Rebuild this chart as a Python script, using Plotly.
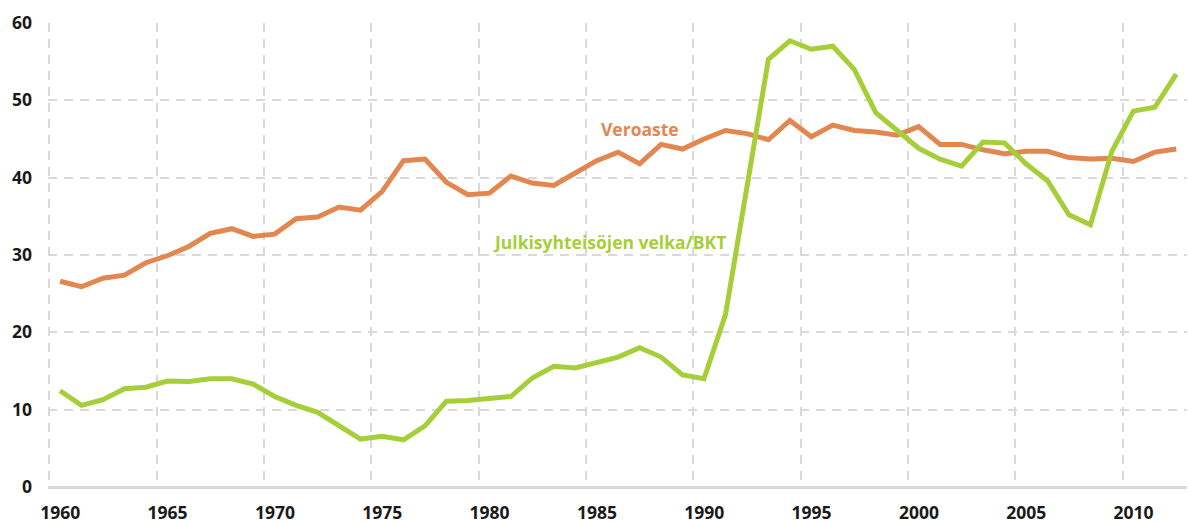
import plotly.graph_objects as go

years = list(range(1960, 2013))

veroaste = [26.6, 25.9, 27.0, 27.4, 29.0, 29.9, 31.1, 32.8, 33.4, 32.4,
            32.7, 34.7, 34.9, 36.2, 35.8, 38.2, 42.2, 42.4, 39.4, 37.8,
            38.0, 40.2, 39.3, 39.0, 40.6, 42.2, 43.3, 41.8, 44.3, 43.7,
            45.0, 46.1, 45.7, 44.9, 47.4, 45.3, 46.8, 46.1, 45.9, 45.5,
            46.6, 44.3, 44.3, 43.6, 43.1, 43.4, 43.4, 42.6, 42.4, 42.5,
            42.1, 43.3, 43.7]

velka = [12.45, 10.55, 11.3, 12.7, 12.9, 13.7, 13.65, 14.0, 14.0, 13.3,
         11.7, 10.55, 9.65, 7.85, 6.2, 6.55, 6.1, 7.9, 11.1, 11.2,
         11.4, 11.7, 14.1, 15.6, 15.4, 16.1, 16.8, 18.0, 16.8, 14.5,
         14.0, 22.3, 39.0, 55.3, 57.7, 56.6, 57.0, 54.0, 48.4, 46.0,
         43.8, 42.4, 41.5, 44.6, 44.5, 41.8, 39.6, 35.2, 33.9, 43.4,
         48.6, 49.1, 53.4]

tick_years = [1960, 1965, 1970, 1975, 1980, 1985, 1990, 1995, 2000, 2005, 2010]
y_ticks = [0, 10, 20, 30, 40, 50, 60]

ORANGE = "#E2874F"
GREEN = "#A6CE39"
GRID = "#D9D9D9"
FONT = "Open Sans"

fig = go.Figure()
fig.add_trace(go.Scatter(x=years, y=veroaste, mode="lines",
                         line=dict(color=ORANGE, width=5), name="Veroaste"))
fig.add_trace(go.Scatter(x=years, y=velka, mode="lines",
                         line=dict(color=GREEN, width=5),
                         name="Julkisyhteisöjen velka/BKT"))

fig.update_layout(
    width=1188, height=522,
    margin=dict(l=48, r=1, t=23, b=35),
    paper_bgcolor="white", plot_bgcolor="white",
    showlegend=False,
    font=dict(family=FONT, color="#1a1a1a"),
    xaxis=dict(
        range=[1959.44, 2012.5],
        automargin=False,
        tickmode="array",
        tickvals=[t - 0.5 for t in tick_years],
        ticktext=[str(t) for t in tick_years],
        ticklabelshift=11,
        ticklabelstandoff=13,
        ticks="",
        showgrid=True, gridcolor=GRID, gridwidth=2, griddash="9px,7px",
        zeroline=False, showline=False,
        tickfont=dict(family=FONT, size=17.5, color="#1a1a1a", weight="bold"),
    ),
    yaxis=dict(
        range=[0, 60],
        automargin=False,
        tickmode="array", tickvals=y_ticks,
        ticks="",
        ticklabelstandoff=15,
        showgrid=True, gridcolor=GRID, gridwidth=2, griddash="9px,7px",
        zeroline=True, zerolinecolor=GRID, zerolinewidth=3,
        showline=False,
        tickfont=dict(family=FONT, size=17.5, color="#1a1a1a", weight="bold"),
    ),
    annotations=[
        dict(x=1987.0, y=46.3, xref="x", yref="y", text="<b>Veroaste</b>",
             showarrow=False, font=dict(family=FONT, size=17.5, color=ORANGE)),
        dict(x=1985.6, y=31.7, xref="x", yref="y",
             text="<b>Julkisyhteisöjen velka/BKT</b>",
             showarrow=False, font=dict(family=FONT, size=17.5, color=GREEN)),
    ],
)

fig.write_html("out.html",
               config={"displayModeBar": False},
               post_script="document.body.style.margin='0px';document.body.style.overflow='hidden';")
